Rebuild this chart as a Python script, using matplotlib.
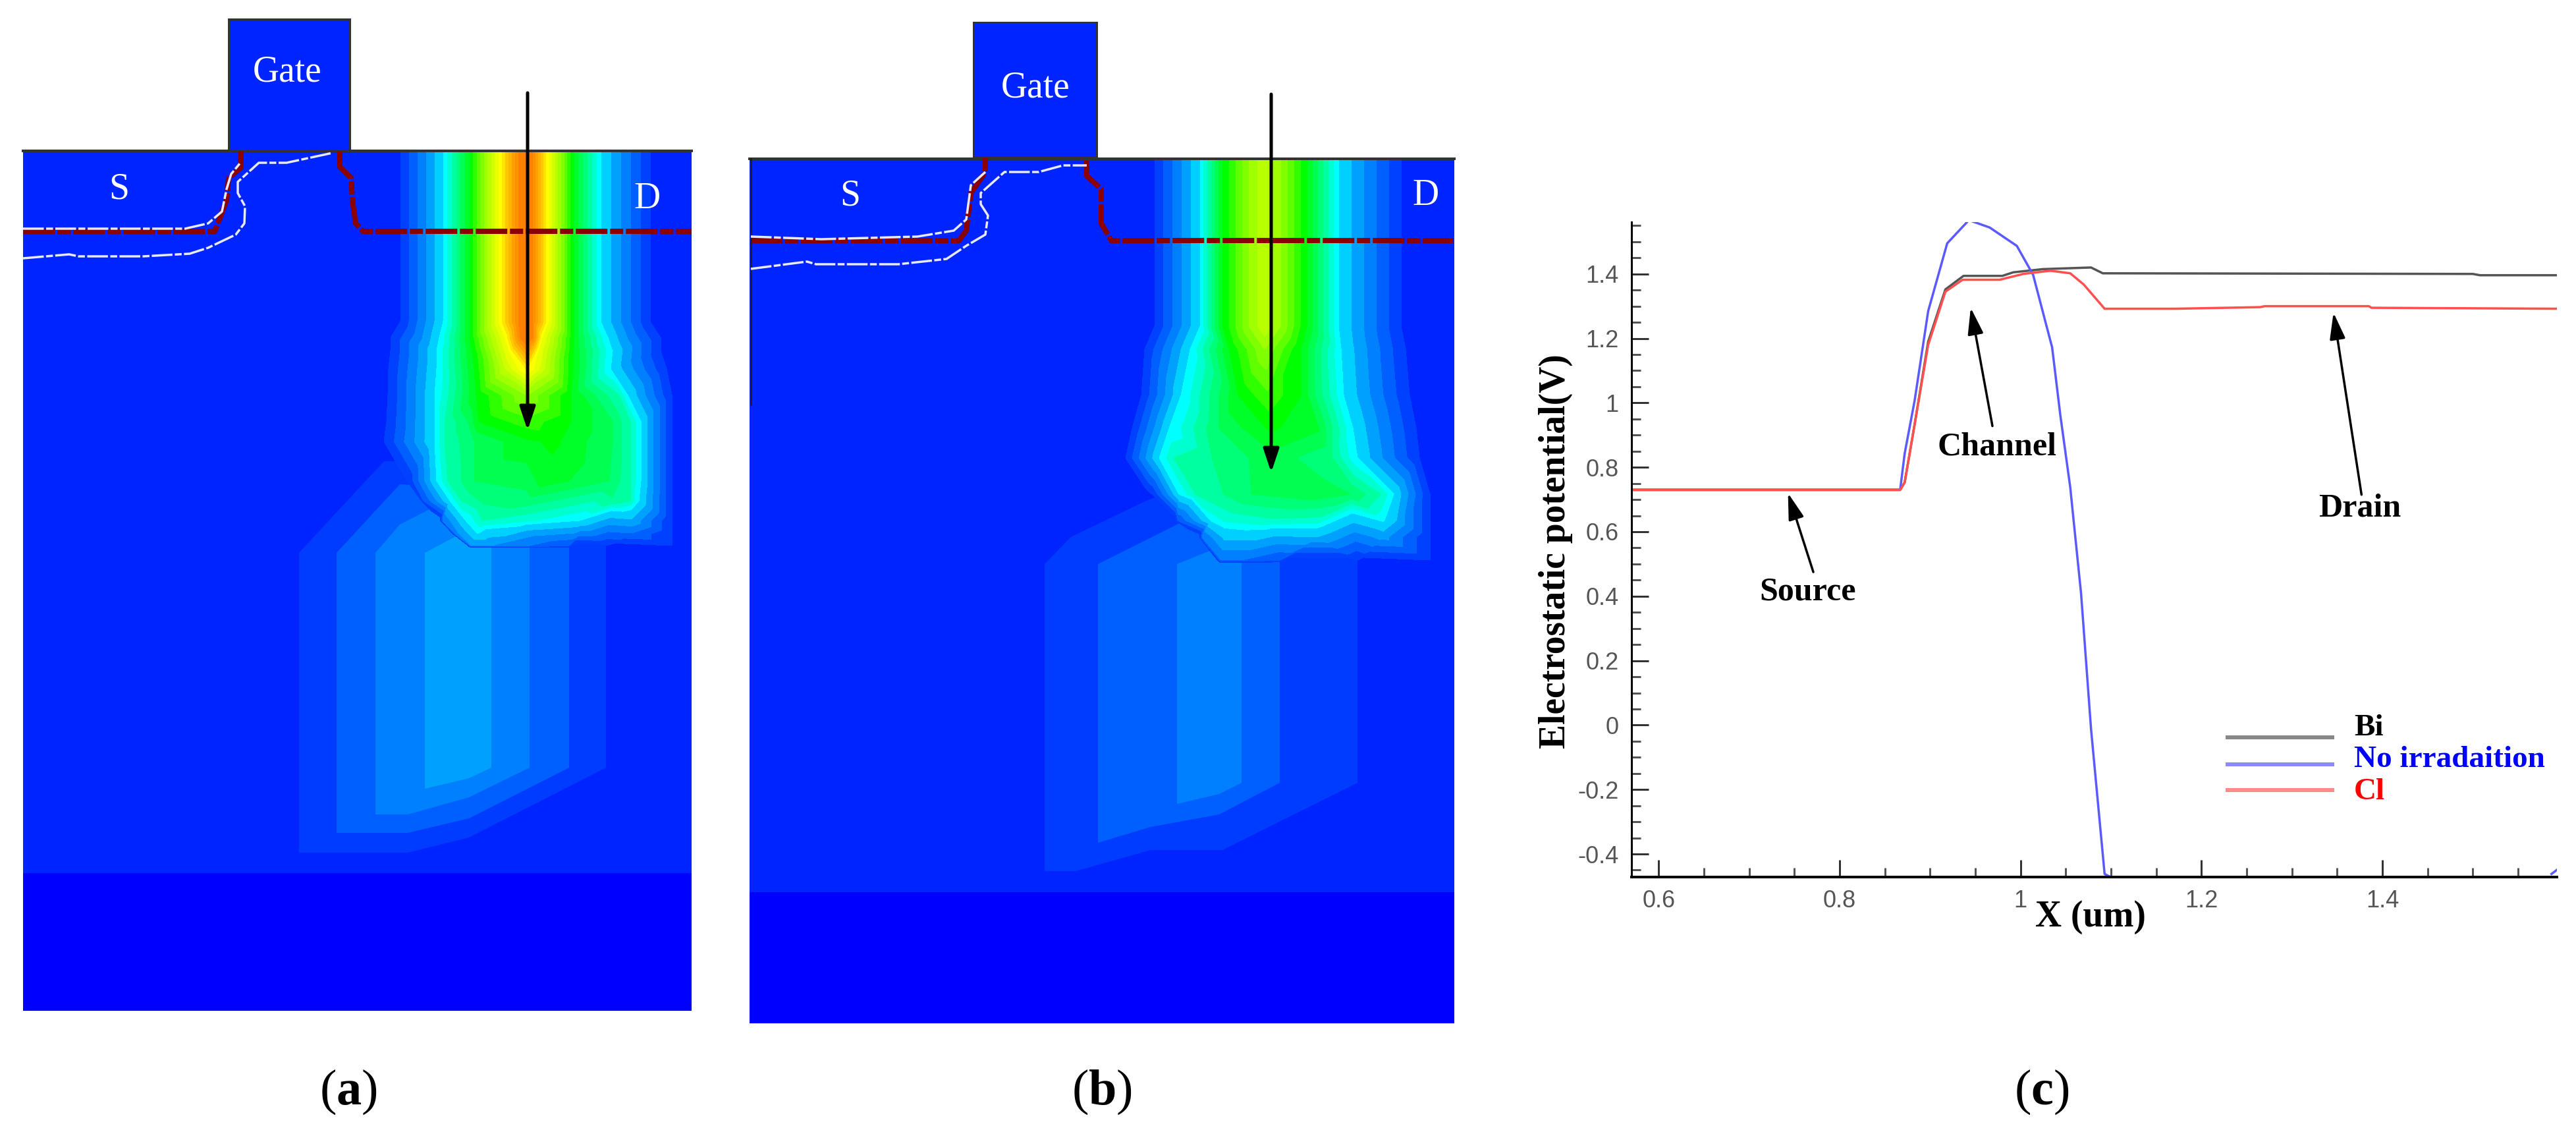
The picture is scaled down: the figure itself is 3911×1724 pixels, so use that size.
#!/usr/bin/env python3
"""MOSFET 截面电势分布 (a)(b) 与沟道表面电势曲线 (c)"""

import numpy as np
import matplotlib
matplotlib.use('Agg')
import matplotlib.pyplot as plt
from matplotlib.patches import Rectangle, Polygon
from matplotlib.ticker import MultipleLocator

plt.rcParams['font.family'] = ['Liberation Serif', 'DejaVu Sans']
plt.rcParams['mathtext.fontset'] = 'custom'
plt.rcParams['mathtext.bf'] = 'Liberation Serif:bold'
plt.rcParams['mathtext.rm'] = 'Liberation Serif'

# ---- panels (a) (b): field rows: y, then x / value along that row
LEVELS = [1, 2, 3, 4, 5, 6, 6.5, 7, 7.5, 8, 8.5, 9, 9.5, 10, 10.5, 11, 11.5, 12, 12.5, 13, 13.5, 14, 14.5, 15, 15.5, 16, 100]
LEVEL_COLORS = ['#0040ff', '#0060ff', '#0080ff', '#00a0ff', '#00d0ff',
                '#00ffff', '#00ffd0', '#00ffa0', '#00ff78', '#00ff50', '#00ff28',
                '#00ff00', '#30ff00', '#60ff00', '#80ff00', '#a0ff00', '#b8ff00',
                '#d0ff00', '#e8ff00', '#ffff00', '#ffe400', '#ffc800', '#ffb400',
                '#ffa000', '#ff9000', '#ff8000']

a_rows = [
    (232, [594, 608, 673, 713, 757, 787, 797, 808, 833, 870, 912, 987, 1001], [0, 1, 6, 9, 13, 16, 17, 16, 13, 9, 6, 1, 0]),
    (488, [594, 608, 673, 713, 757, 787, 797, 808, 833, 870, 912, 987, 1001], [0, 1, 6, 9, 13, 16, 17, 16, 13, 9, 6, 1, 0]),
    (513, [579, 593, 667, 713, 767, 790, 798, 808, 823, 870, 923, 1003, 1017], [0, 1, 6, 9, 13, 16, 16.6, 16, 13, 9, 6, 1, 0]),
    (533, [579, 593, 663, 717, 773, 800, 817, 870, 930, 1003, 1017], [0, 1, 6, 9, 13, 15.5, 13, 9, 6, 1, 0]),
    (560, [576, 590, 663, 720, 767, 800, 827, 870, 927, 1012, 1026], [0, 1, 6, 9, 12, 13.6, 12, 9, 6, 1, 0]),
    (600, [575, 589, 660, 723, 800, 867, 940, 953, 1020, 1034], [0, 1, 6, 9, 11, 9, 7, 6, 1, 0]),
    (640, [573, 587, 660, 675, 710, 727, 800, 867, 930, 957, 973, 1020, 1034], [0, 1, 6, 7, 8, 9, 9.8, 9, 8, 7, 6, 1, 0]),
    (670, [569, 583, 660, 675, 720, 800, 843, 930, 957, 973, 1020, 1034], [0, 1, 6, 7, 8, 8.9, 9.1, 8, 7, 6, 1, 0]),
    (730, [604, 618, 663, 680, 720, 827, 925, 957, 973, 1020, 1034], [0, 1, 6, 7, 8, 8.8, 8, 7, 6, 1, 0]),
    (760, [637, 643, 683, 700, 733, 800, 930, 957, 970, 1020, 1034], [0, 2, 6, 7, 7.6, 7.8, 7.4, 7, 6, 1, 0]),
    (790, [666, 672, 707, 733, 800, 880, 960, 1020, 1034], [0, 3, 6, 7, 6.6, 6, 4.8, 1, 0]),
    (810, [686, 692, 725, 800, 880, 960, 1020, 1034], [0, 3.6, 6, 4.4, 3.5, 2.9, 1, 0]),
    (828, [716, 746, 804, 864, 920, 1020], [4, 4, 3, 2, 1, 1]),
    (832, [714, 746, 804, 864, 920, 1030], [0, 0, 0, 0, 0, 0]),
]

b_rows = [
    (244, [1739, 1753, 1822, 1856, 1896, 1920, 1944, 1984, 2032, 2127, 2141], [0, 1, 6, 9, 11, 11.9, 11, 9, 6, 1, 0]),
    (495, [1739, 1753, 1822, 1856, 1896, 1920, 1944, 1984, 2032, 2127, 2141], [0, 1, 6, 9, 11, 11.9, 11, 9, 6, 1, 0]),
    (530, [1724, 1738, 1807, 1866, 1920, 1975, 2036, 2134, 2148], [0, 1, 6, 9, 11, 9, 6, 1, 0]),
    (600, [1718, 1733, 1793, 1880, 1925, 1975, 2040, 2140, 2154], [0, 1, 6, 9, 9.9, 9, 6, 1, 0]),
    (650, [1705, 1719, 1775, 1850, 1930, 2000, 2054, 2150, 2164], [0, 1, 6, 8, 9.1, 8.6, 6, 1, 0]),
    (695, [1695, 1709, 1760, 1782, 1840, 1930, 2020, 2061, 2155, 2169], [0, 1, 6, 7, 7.5, 8.3, 7.6, 6, 1, 0]),
    (750, [1735, 1749, 1790, 1815, 1900, 2000, 2050, 2096, 2116, 2171, 2185], [0, 1, 6, 7, 8, 8.3, 8, 7, 6, 1, 0]),
    (790, [1782, 1788, 1838, 1860, 1930, 2000, 2100, 2120, 2171, 2185], [0, 2, 6, 6.6, 6.9, 6.8, 6.1, 5, 1, 0]),
    (815, [1819, 1825, 1860, 2000, 2100, 2171, 2185], [0, 3, 5.3, 5, 4.4, 1, 0]),
    (850, [1854, 1885, 1943, 2061, 2171], [3, 3, 2, 1, 1]),
    (855, [1850, 1885, 1943, 2061, 2180], [0, 0, 0, 0, 0]),
]

# weak lower plume, one outline per band
PLUME_COLORS = ['#003cff', '#0060ff', '#0080ff', '#00a0ff']
a_plume = [
    ([454, 583, 700, 920, 920, 712, 619, 454], [839, 700, 700, 780, 1165, 1271, 1294, 1294]),
    ([511, 607, 700, 864, 864, 712, 619, 511], [839, 735, 740, 780, 1165, 1242, 1264, 1264]),
    ([570, 607, 652, 720, 804, 804, 712, 619, 570], [839, 796, 773, 773, 800, 1165, 1210, 1236, 1236]),
    ([645, 690, 746, 746, 712, 645], [839, 815, 800, 1165, 1181, 1197]),
]
b_plume = [
    ([1586, 1626, 1738, 1790, 2061, 2061, 1856, 1747, 1633, 1586], [856, 815, 761, 740, 790, 1188, 1290, 1290, 1322, 1322]),
    ([1667, 1737, 1791, 1900, 1943, 1943, 1851, 1747, 1667], [856, 821, 794, 800, 820, 1188, 1236, 1255, 1279]),
    ([1787, 1834, 1885, 1885, 1851, 1787], [856, 837, 830, 1188, 1205, 1220]),
]

# junction lines in the two sections
a_red_right = ([516, 516, 533, 535, 540, 551, 1050], [230, 253, 270, 304, 339, 351, 351])
a_red_left = ([35, 326, 344, 347, 365, 366], [351, 351, 304, 270, 255, 230])
a_white_1 = ([35, 281, 316, 337, 344, 351, 365], [347, 347, 339, 321, 287, 264, 247])
a_white_2 = ([35, 105, 119, 218, 288, 316, 358, 371, 372, 361, 361, 393, 435, 505],
             [392, 386, 389, 389, 385, 376, 356, 339, 313, 293, 276, 247, 247, 232])
b_red_right = ([1650, 1650, 1672, 1672, 1687, 2206], [244, 267, 287, 339, 365, 365])
b_red_left = ([1140, 1456, 1467, 1474, 1496, 1496], [365, 365, 350, 293, 261, 240])
b_white_1 = ([1140, 1247, 1393, 1448, 1467, 1474, 1496], [359, 363, 359, 350, 333, 281, 261])
b_white_2 = ([1140, 1225, 1239, 1364, 1437, 1467, 1496, 1500, 1489, 1489, 1525, 1577, 1614, 1650],
             [408, 397, 401, 401, 393, 373, 356, 327, 310, 293, 261, 261, 251, 251])

# ---- panel (c)
x_source = [0.572, 0.867]
y_source = [0.73, 0.73]

cl_x = x_source + [0.872, 0.883, 0.898, 0.917, 0.936, 0.977, 1.003, 1.033, 1.055, 1.07, 1.093, 1.171, 1.265, 1.27, 1.385, 1.388, 1.594]
cl_y = y_source + [0.753, 0.933, 1.18, 1.345, 1.382, 1.382, 1.40, 1.41, 1.402, 1.367, 1.292, 1.292, 1.297, 1.30, 1.30, 1.295, 1.292]

bi_x = x_source + [0.872, 0.883, 0.898, 0.917, 0.937, 0.98, 0.992, 1.025, 1.078, 1.091, 1.50, 1.508, 1.594]
bi_y = y_source + [0.753, 0.933, 1.19, 1.352, 1.394, 1.394, 1.405, 1.415, 1.42, 1.402, 1.40, 1.396, 1.396]

blue_x = x_source + [0.872, 0.883, 0.898, 0.919, 0.943, 0.966, 0.996, 1.014, 1.035, 1.044, 1.055, 1.067, 1.078, 1.093, 1.10, 1.30, 1.587, 1.594]
blue_y = y_source + [0.843, 1.007, 1.285, 1.495, 1.567, 1.544, 1.487, 1.397, 1.172, 0.963, 0.738, 0.408, -0.012, -0.462, -0.472, np.nan, -0.462, -0.447]

x_major = [0.6, 0.8, 1.0, 1.2, 1.4]
x_labels = ['0.6', '0.8', '1', '1.2', '1.4']
y_major = [-0.4, -0.2, 0, 0.2, 0.4, 0.6, 0.8, 1.0, 1.2, 1.4]
y_labels = ['-0.4', '-0.2', '0', '0.2', '0.4', '0.6', '0.8', '1', '1.2', '1.4']

callouts = ['Source', 'Channel', 'Drain']
callout_text_xy = [(0.765, 0.413), (0.974, 0.862), (1.375, 0.672)]
callout_tail = [(0.771, 0.475), (0.969, 0.928), (1.377, 0.715)]
callout_tip = [(0.743, 0.72), (0.945, 1.295), (1.346, 1.28)]

W, H = 3911, 1724
px = 72 / 100  # 1 像素对应的 pt


def draw_field(ax, rows):
    xs, ys, zs = [], [], []
    for y, row_x, row_z in rows:
        xs += row_x
        ys += [y] * len(row_x)
        zs += row_z
    ax.tricontourf(xs, ys, zs, levels=LEVELS, colors=LEVEL_COLORS, antialiased=False, zorder=3)


def draw_section(ax, box, sub_top, rows, plume, gate, reds, whites, arrow, labels):
    left, right, top, bottom = box
    ax.add_patch(Rectangle((left, top), right - left, bottom - top, fc='#0024ff', ec='none', zorder=1))
    ax.add_patch(Rectangle((left, sub_top), right - left, bottom - sub_top, fc='#0000ff', ec='none', zorder=1.5))
    for (px_x, px_y), color in zip(plume, PLUME_COLORS):
        ax.add_patch(Polygon(np.column_stack([px_x, px_y]), closed=True, fc=color, ec='none', zorder=2))
    draw_field(ax, rows)
    gl, gr, gt, gb = gate
    ax.add_patch(Rectangle((gl, gt), gr - gl, gb - gt, fc='#0024ff', ec='#333333', lw=3 * px, zorder=4))
    ax.plot([left, right], [top, top], color='#333333', lw=4 * px, zorder=5)
    for line in reds:
        ax.plot(line[0], line[1], color='#8b0000', lw=8 * px, ls=(0, (6, 0.5, 2.5, 0.5)), solid_capstyle='butt', zorder=5)
    for line in whites:
        ax.plot(line[0], line[1], color='#e8e8ff', lw=3.5 * px, ls=(0, (9, 1, 3, 1)), zorder=6)
    (ax0, ay0), (ax1, ay1) = arrow
    ax.annotate('', xy=(ax1, ay1), xytext=(ax0, ay0), zorder=7,
                arrowprops=dict(arrowstyle='-|>,head_length=%g,head_width=%g' % (30 * px, 10 * px), mutation_scale=1,
                                color='black', lw=5 * px, shrinkA=0, shrinkB=0))
    for text, tx, ty in labels:
        ax.text(tx, ty, text, color='white', fontsize=40, ha='center', va='center', zorder=7)


fig = plt.figure(figsize=((W + 0.01) / 100, (H + 0.01) / 100), dpi=100, facecolor='white')
base = fig.add_axes([0, 0, 1, 1])
base.set_xlim(0, W)
base.set_ylim(H, 0)
base.axis('off')

draw_section(base, (35, 1050, 229, 1534), 1325, a_rows, a_plume, (347, 531, 29, 228),
             [a_red_right, a_red_left], [a_white_1, a_white_2], ((801, 141), (801, 653)),
             [('Gate', 436, 109), ('S', 181, 287), ('D', 982, 302)])
draw_section(base, (1138, 2208, 241, 1553), 1354, b_rows, b_plume, (1478, 1665, 34, 238),
             [b_red_right, b_red_left], [b_white_1, b_white_2], ((1930, 143), (1930, 717)),
             [('Gate', 1572, 133), ('S', 1291, 297), ('D', 2164, 297)])
base.plot([1140, 1140], [241, 614], color='#222222', lw=3 * px, zorder=5)

for label, cx, cy in [('a', 529, 1657), ('b', 1673, 1657), ('c', 3100, 1657)]:
    base.text(cx, cy, r'($\mathbf{%s}$)' % label, fontsize=55, ha='center', va='center')

# 面板 (c)
ax = fig.add_axes([2477 / W, 1 - 1331 / H, (3882 - 2477) / W, (1331 - 337) / H])
ax.patch.set_visible(False)
ax.plot(bi_x, bi_y, color='#555555', lw=3.5 * px)
ax.plot(blue_x, blue_y, color='#5a5aff', lw=3.5 * px)
ax.plot(cl_x, cl_y, color='#ff5050', lw=3.5 * px)
ax.set_xlim(0.570, 1.593)
ax.set_ylim(-0.4715, 1.561)

ax.spines['top'].set_visible(False)
ax.spines['right'].set_visible(False)
ax.spines['left'].set_linewidth(3 * px)
ax.spines['bottom'].set_linewidth(4 * px)
ax.set_xticks(x_major)
ax.set_xticklabels(x_labels)
ax.set_yticks(y_major)
ax.set_yticklabels(y_labels)
ax.xaxis.set_minor_locator(MultipleLocator(0.05))
ax.yaxis.set_minor_locator(MultipleLocator(0.05))
ax.tick_params(which='major', direction='in', length=26 * px, width=3 * px, color='#333333', pad=14)
ax.tick_params(which='minor', direction='in', length=14 * px, width=3 * px, color='#555555')
for tick in ax.get_xticklabels() + ax.get_yticklabels():
    tick.set_family('Liberation Sans')
    tick.set_fontsize(26)
    tick.set_color('#555555')

for text, xy, tail, tip in zip(callouts, callout_text_xy, callout_tail, callout_tip):
    ax.annotate('', xy=tip, xytext=tail,
                arrowprops=dict(arrowstyle='-|>,head_length=%g,head_width=%g' % (34 * px, 10 * px), mutation_scale=1,
                                color='black', lw=3.5 * px, shrinkA=0, shrinkB=0))
    ax.text(xy[0], xy[1], text, fontsize=36, fontweight='bold', ha='center', va='center')

base.text(2362, 837, 'Electrostatic potential(V)', rotation=90, fontsize=40, fontweight='bold', ha='center', va='center')
base.text(3174, 1392, 'X (um)', fontsize=40, fontweight='bold', ha='center', va='center')

# 图例
legend_names = ['Bi', 'No irradaition', 'Cl']
legend_colors = ['#888888', '#8a8aff', '#ff8a8a']
legend_text_colors = ['black', '#0000ff', '#ff0000']
legend_line_y = [1119, 1160, 1199]
legend_text_y = [1105, 1153, 1202]
for name, c, tc, ly, ty in zip(legend_names, legend_colors, legend_text_colors, legend_line_y, legend_text_y):
    base.plot([3379, 3544], [ly, ly], color=c, lw=6 * px, solid_capstyle='butt')
    base.text(3574, ty, name, color=tc, fontsize=34, fontweight='bold', ha='left', va='center')

plt.savefig('out.png', dpi=100)
